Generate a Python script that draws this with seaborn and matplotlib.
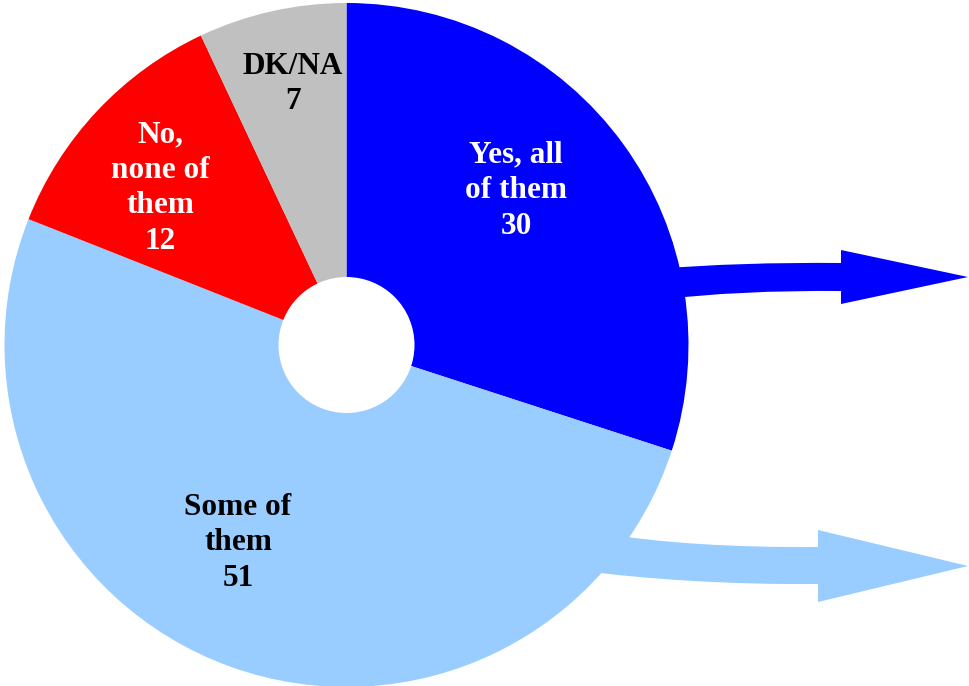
import matplotlib
matplotlib.use("Agg")
import matplotlib.pyplot as plt
from matplotlib.path import Path
from matplotlib.patches import PathPatch, Circle
import seaborn as sns

# ---- data ----
categories = ["Yes, all\nof them", "Some of\nthem", "No,\nnone of\nthem", "DK/NA"]
values = [30, 51, 12, 7]
colors_hex = ["#0000FF", "#99CCFF", "#FF0000", "#C0C0C0"]
text_colors = ["white", "black", "white", "black"]

sns.set_theme(style="white")
plt.rcParams["font.family"] = ["Liberation Serif", "DejaVu Serif"]
palette = sns.color_palette(colors_hex)

W, H = 969, 686
fig = plt.figure(figsize=(W / 100, H / 100), dpi=100)
ax = fig.add_axes([0, 0, 1, 1])

def P(x, y):
    return (x, H - y)

cx, cy = P(346.5, 345)
R = 342
hole_r = 68

wedges, _ = ax.pie(values, colors=palette, startangle=90, counterclock=False,
                   radius=R, center=(cx, cy), frame=True,
                   wedgeprops=dict(linewidth=0))
ax.add_patch(Circle((cx, cy), hole_r, facecolor="white", edgecolor="none", zorder=3))

# arrows (decorative)
def arrow(pts, color):
    verts = [P(*p) for p in pts]
    codes = [Path.MOVETO, Path.CURVE3, Path.CURVE3, Path.LINETO, Path.LINETO,
             Path.LINETO, Path.LINETO, Path.CURVE3, Path.CURVE3, Path.CLOSEPOLY]
    verts.append(verts[0])
    ax.add_patch(PathPatch(Path(verts, codes), facecolor=color, edgecolor="none", zorder=2))

arrow([(655, 269), (740, 262), (841, 263), (841, 250), (968, 277), (841, 304),
       (841, 291), (740, 290), (655, 300)], palette[0])
arrow([(600, 533), (690, 548), (818, 547), (818, 530), (968, 566), (818, 602),
       (818, 584), (690, 585), (575, 570)], palette[1])

# labels
label_pos = [(516, 191), (238, 543), (160, 188), (293, 84)]
for cat, v, tc, (lx, ly) in zip(categories, values, text_colors, label_pos):
    ax.text(*P(lx, ly), f"{cat}\n{v}", ha="center", va="center", color=tc,
            fontsize=22.5, fontweight="bold", linespacing=1.3, zorder=4)

ax.set_xlim(0, W)
ax.set_ylim(0, H)
ax.set_aspect("equal")
ax.axis("off")
fig.savefig("out.png", dpi=100, facecolor="white")
